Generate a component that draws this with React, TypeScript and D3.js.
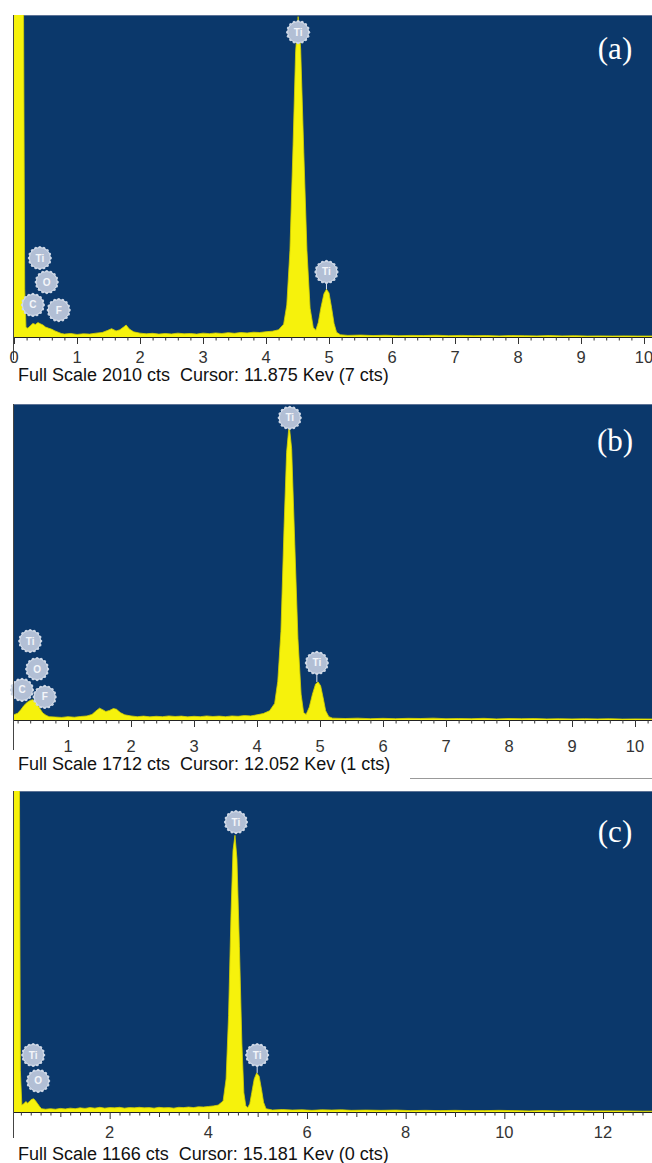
import React from 'react';
import * as d3 from 'd3';

type Pt = [number, number];

// Spectrum (a): [keV, counts]
const spectrumA: Pt[] = [
  [0.0, 2200], [0.15, 2200], [0.17, 300], [0.19, 60], [0.22, 55], [0.26, 70], [0.3, 85], [0.34, 78], [0.38, 90],
  [0.42, 82], [0.46, 75], [0.5, 62], [0.55, 55], [0.6, 48], [0.65, 38], [0.7, 30], [0.75, 22], [0.8, 18],
  [0.9, 22], [1.0, 16], [1.1, 20], [1.2, 18], [1.3, 24], [1.4, 28], [1.48, 40], [1.55, 52], [1.62, 38],
  [1.68, 45], [1.74, 62], [1.78, 75], [1.83, 50], [1.9, 32], [2.0, 24], [2.1, 20], [2.2, 23], [2.3, 18],
  [2.4, 22], [2.5, 19], [2.6, 24], [2.7, 20], [2.8, 22], [2.9, 18], [3.0, 24], [3.1, 21], [3.2, 25],
  [3.3, 22], [3.4, 27], [3.5, 23], [3.6, 28], [3.7, 25], [3.8, 30], [3.9, 28], [4.0, 33], [4.1, 36],
  [4.2, 45], [4.28, 80], [4.33, 200], [4.38, 540], [4.43, 1200], [4.47, 1780], [4.51, 2000], [4.55, 1800],
  [4.6, 1150], [4.65, 540], [4.7, 180], [4.75, 60], [4.79, 42], [4.83, 90], [4.87, 180], [4.92, 270],
  [4.96, 298], [5.0, 275], [5.04, 185], [5.08, 85], [5.12, 30], [5.18, 14], [5.3, 10], [5.5, 12], [5.7, 9],
  [5.9, 11], [6.1, 8], [6.3, 10], [6.5, 9], [6.7, 11], [6.9, 8], [7.1, 10], [7.3, 8], [7.5, 9], [7.7, 7],
  [7.9, 9], [8.1, 8], [8.3, 7], [8.5, 9], [8.7, 7], [8.9, 8], [9.1, 6], [9.3, 7], [9.5, 6], [9.7, 7],
  [9.9, 6], [10.3, 6],
];

// Spectrum (b)
const spectrumB: Pt[] = [
  [0.1, 28], [0.15, 30], [0.2, 36], [0.25, 55], [0.3, 78], [0.35, 95], [0.4, 106], [0.44, 110], [0.48, 102],
  [0.52, 82], [0.56, 58], [0.6, 38], [0.65, 26], [0.7, 18], [0.8, 16], [0.9, 14], [1.0, 18], [1.1, 15],
  [1.2, 19], [1.3, 22], [1.38, 30], [1.44, 48], [1.5, 64], [1.55, 56], [1.6, 46], [1.66, 52], [1.72, 62],
  [1.77, 58], [1.83, 40], [1.9, 28], [2.0, 22], [2.1, 18], [2.2, 21], [2.3, 17], [2.4, 20], [2.5, 18],
  [2.6, 22], [2.7, 19], [2.8, 21], [2.9, 17], [3.0, 20], [3.1, 18], [3.2, 22], [3.3, 19], [3.4, 21],
  [3.5, 18], [3.6, 22], [3.7, 20], [3.8, 24], [3.9, 22], [4.0, 28], [4.1, 35], [4.2, 50], [4.28, 90],
  [4.33, 210], [4.38, 480], [4.43, 1050], [4.47, 1450], [4.51, 1600], [4.55, 1470], [4.6, 950], [4.65, 440],
  [4.7, 140], [4.74, 40], [4.78, 30], [4.83, 70], [4.88, 140], [4.93, 195], [4.97, 206], [5.01, 185],
  [5.05, 120], [5.09, 50], [5.14, 18], [5.2, 10], [5.4, 8], [5.6, 10], [5.8, 7], [6.0, 9], [6.2, 7],
  [6.4, 9], [6.6, 8], [6.8, 10], [7.0, 7], [7.2, 8], [7.4, 7], [7.6, 9], [7.8, 6], [8.0, 8], [8.2, 7],
  [8.4, 8], [8.6, 6], [8.8, 7], [9.0, 6], [9.2, 7], [9.4, 6], [9.6, 7], [9.8, 5], [10.0, 6], [10.4, 5],
];

// Spectrum (c)
const spectrumC: Pt[] = [
  [0.0, 1300], [0.17, 1300], [0.19, 150], [0.22, 25], [0.26, 30], [0.3, 38], [0.34, 32], [0.38, 40],
  [0.42, 46], [0.46, 48], [0.5, 40], [0.54, 30], [0.58, 20], [0.62, 12], [0.7, 10], [0.8, 12], [0.9, 10],
  [1.0, 13], [1.1, 11], [1.2, 14], [1.3, 12], [1.4, 15], [1.5, 13], [1.6, 16], [1.7, 14], [1.8, 17],
  [1.9, 14], [2.0, 16], [2.1, 15], [2.2, 17], [2.3, 14], [2.4, 16], [2.5, 15], [2.6, 17], [2.7, 15],
  [2.8, 16], [2.9, 14], [3.0, 17], [3.1, 15], [3.2, 16], [3.3, 14], [3.4, 17], [3.5, 16], [3.6, 18],
  [3.7, 16], [3.8, 19], [3.9, 18], [4.0, 20], [4.1, 22], [4.2, 25], [4.3, 40], [4.36, 120], [4.41, 350],
  [4.46, 720], [4.5, 950], [4.54, 1005], [4.58, 920], [4.63, 600], [4.68, 250], [4.72, 70], [4.76, 22],
  [4.8, 16], [4.84, 30], [4.88, 70], [4.93, 120], [4.98, 142], [5.03, 130], [5.08, 80], [5.12, 35],
  [5.17, 12], [5.3, 7], [5.5, 9], [5.7, 7], [5.9, 8], [6.1, 6], [6.3, 8], [6.5, 7], [6.7, 8], [6.9, 6],
  [7.2, 7], [7.5, 6], [7.8, 7], [8.1, 5], [8.4, 6], [8.7, 5], [9.0, 6], [9.3, 5], [9.6, 5], [9.9, 6],
  [10.2, 5], [10.5, 4], [10.8, 5], [11.1, 4], [11.4, 5], [11.7, 4], [12.0, 4], [12.4, 4], [12.8, 3], [13.2, 3],
];

type Tag = { el: string; keV: number; cts: number; peak?: number };

const tagsA: Tag[] = [
  { el: 'Ti', keV: 4.51, cts: 1903 },
  { el: 'Ti', keV: 4.96, cts: 406, peak: 298 },
  { el: 'Ti', keV: 0.41, cts: 493 },
  { el: 'O', keV: 0.52, cts: 343 },
  { el: 'C', keV: 0.3, cts: 200 },
  { el: 'F', keV: 0.71, cts: 168 },
];
const tagsB: Tag[] = [
  { el: 'Ti', keV: 4.52, cts: 1637 },
  { el: 'Ti', keV: 4.95, cts: 309, peak: 206 },
  { el: 'Ti', keV: 0.4, cts: 428 },
  { el: 'O', keV: 0.51, cts: 276 },
  { el: 'C', keV: 0.27, cts: 163 },
  { el: 'F', keV: 0.63, cts: 125 },
];
const tagsC: Tag[] = [
  { el: 'Ti', keV: 4.56, cts: 1053 },
  { el: 'Ti', keV: 4.99, cts: 207, peak: 142 },
  { el: 'Ti', keV: 0.45, cts: 207 },
  { el: 'O', keV: 0.55, cts: 113 },
];

const tickLabelsA = [0, 1, 2, 3, 4, 5, 6, 7, 8, 9, 10];
const tickLabelsB = [1, 2, 3, 4, 5, 6, 7, 8, 9, 10];
const tickLabelsC = [2, 4, 6, 8, 10, 12];

const captionA = 'Full Scale 2010 cts  Cursor: 11.875 Kev (7 cts)';
const captionB = 'Full Scale 1712 cts  Cursor: 12.052 Kev (1 cts)';
const captionC = 'Full Scale 1166 cts  Cursor: 15.181 Kev (0 cts)';

const BLUE = '#0b386b';
const YELLOW = '#f6f20c';

type PanelProps = {
  id: string;
  data: Pt[];
  tags: Tag[];
  tickLabels: number[];
  caption: string;
  letter: string;
  fullScale: number;
  top: number;
  axisY: number;
  domainMax: number;
  rangeX: [number, number];
  maxKeV: number;
  majorEvery: number;
  midEvery: number;
  tickLabelY: number;
  captionY: number;
  letterY: number;
  vlineBottom: number;
};

function Badge({ x, y, el }: { x: number; y: number; el: string }) {
  const r = 10.5;
  const bumps = d3.range(0, 16).map((i) => {
    const a = (i / 16) * Math.PI * 2;
    return [x + Math.cos(a) * r, y + Math.sin(a) * r];
  });
  return (
    <g>
      {bumps.map((b, i) => (
        <circle key={i} cx={b[0]} cy={b[1]} r={1.6} fill="#c9d3e3" />
      ))}
      <circle cx={x} cy={y} r={r} fill="#b2bfd5" stroke="#d6deea" strokeWidth={1} />
      <text
        x={x}
        y={y + 3.5}
        textAnchor="middle"
        fontFamily="Liberation Sans, Arial, sans-serif"
        fontWeight="bold"
        fontSize={10}
        fill="#f4f6fa"
      >
        {el}
      </text>
    </g>
  );
}

function Panel(p: PanelProps) {
  const left = 13;
  const right = 652;
  const x = d3.scaleLinear().domain([0, p.domainMax]).range(p.rangeX);
  const y = d3.scaleLinear().domain([0, p.fullScale]).range([p.axisY, p.top]);
  const area = d3
    .area<Pt>()
    .x((d) => x(d[0]))
    .y0(y(0))
    .y1((d) => y(d[1]))
    .curve(d3.curveLinear);
  const line = d3
    .line<Pt>()
    .x((d) => x(d[0]))
    .y((d) => y(d[1]));
  const minor = d3.range(0, p.maxKeV + 0.001, 0.2).map((v) => Math.round(v * 10) / 10);
  const clipId = `clip-${p.id}`;
  return (
    <g>
      <defs>
        <clipPath id={clipId}>
          <rect x={left} y={p.top} width={right - left} height={p.axisY - p.top} />
        </clipPath>
      </defs>
      <rect x={left} y={p.top} width={right - left} height={p.axisY - p.top} fill={BLUE} />
      <line x1={left} x2={right} y1={p.top + 0.5} y2={p.top + 0.5} stroke="#5d7396" strokeWidth={1} />
      <g clipPath={`url(#${clipId})`}>
        <path d={area(p.data) || ''} fill={YELLOW} />
        <path d={line(p.data) || ''} fill="none" stroke="#d6d200" strokeWidth={0.8} />
      </g>
      {p.tags.map((t, i) => (
        <g key={i}>
          {t.peak !== undefined && (
            <line
              x1={x(t.keV)}
              x2={x(t.keV)}
              y1={y(t.cts) + 10}
              y2={y(t.peak)}
              stroke="#dfe6f0"
              strokeWidth={1}
            />
          )}
          <Badge x={x(t.keV)} y={y(t.cts)} el={t.el} />
        </g>
      ))}
      <line x1={left} x2={right} y1={p.axisY + 0.5} y2={p.axisY + 0.5} stroke="#222" strokeWidth={1} />
      {minor
        .filter((v) => x(v) >= left && x(v) <= right)
        .map((v, i) => {
          const isMajor = Math.abs(v / p.majorEvery - Math.round(v / p.majorEvery)) < 1e-6;
          const isMid = Math.abs(v / p.midEvery - Math.round(v / p.midEvery)) < 1e-6;
          const len = isMajor ? 7 : isMid ? 5 : 3.5;
          return (
            <line
              key={i}
              x1={x(v) + 0.5}
              x2={x(v) + 0.5}
              y1={p.axisY}
              y2={p.axisY + len}
              stroke="#333"
              strokeWidth={1}
            />
          );
        })}
      <line x1={left + 0.5} x2={left + 0.5} y1={p.top} y2={p.vlineBottom} stroke="#444" strokeWidth={1} />
      {p.tickLabels.map((v) => (
        <text
          key={v}
          x={x(v)}
          y={p.tickLabelY}
          textAnchor="middle"
          fontFamily="Liberation Sans, Arial, sans-serif"
          fontSize={16.5}
          fill="#333"
        >
          {v}
        </text>
      ))}
      <text
        x={18}
        y={p.captionY}
        fontFamily="Liberation Sans, Arial, sans-serif"
        fontSize={18}
        fill="#111"
        style={{ whiteSpace: 'pre' }}
        xmlSpace="preserve"
      >
        {p.caption}
      </text>
      <text
        x={615}
        y={p.letterY}
        textAnchor="middle"
        fontFamily="Liberation Serif, Times New Roman, serif"
        fontSize={31}
        fill="#ffffff"
      >
        {p.letter}
      </text>
    </g>
  );
}

export default function App() {
  return (
    <svg
      width={652}
      height={1163}
      style={{ position: 'absolute', left: 0, top: 0, background: '#fff' }}
    >
      <rect x={0} y={0} width={652} height={1163} fill="#fff" />
      <Panel
        id="a"
        data={spectrumA}
        tags={tagsA}
        tickLabels={tickLabelsA}
        caption={captionA}
        letter="(a)"
        fullScale={2010}
        top={15}
        axisY={337}
        domainMax={10}
        rangeX={[14, 644]}
        maxKeV={10.2}
        majorEvery={1}
        midEvery={1}
        tickLabelY={363}
        captionY={381}
        letterY={59}
        vlineBottom={360}
      />
      <Panel
        id="b"
        data={spectrumB}
        tags={tagsB}
        tickLabels={tickLabelsB}
        caption={captionB}
        letter="(b)"
        fullScale={1712}
        top={404}
        axisY={720}
        domainMax={10}
        rangeX={[5, 635]}
        maxKeV={10.4}
        majorEvery={1}
        midEvery={1}
        tickLabelY={752}
        captionY={770}
        letterY={451}
        vlineBottom={750}
      />
      <line x1={410} x2={652} y1={778.5} y2={778.5} stroke="#999" strokeWidth={1} />
      <Panel
        id="c"
        data={spectrumC}
        tags={tagsC}
        tickLabels={tickLabelsC}
        caption={captionC}
        letter="(c)"
        fullScale={1166}
        top={791}
        axisY={1112}
        domainMax={12}
        rangeX={[11, 603]}
        maxKeV={13.2}
        majorEvery={2}
        midEvery={1}
        tickLabelY={1138}
        captionY={1160}
        letterY={842}
        vlineBottom={1138}
      />
    </svg>
  );
}
